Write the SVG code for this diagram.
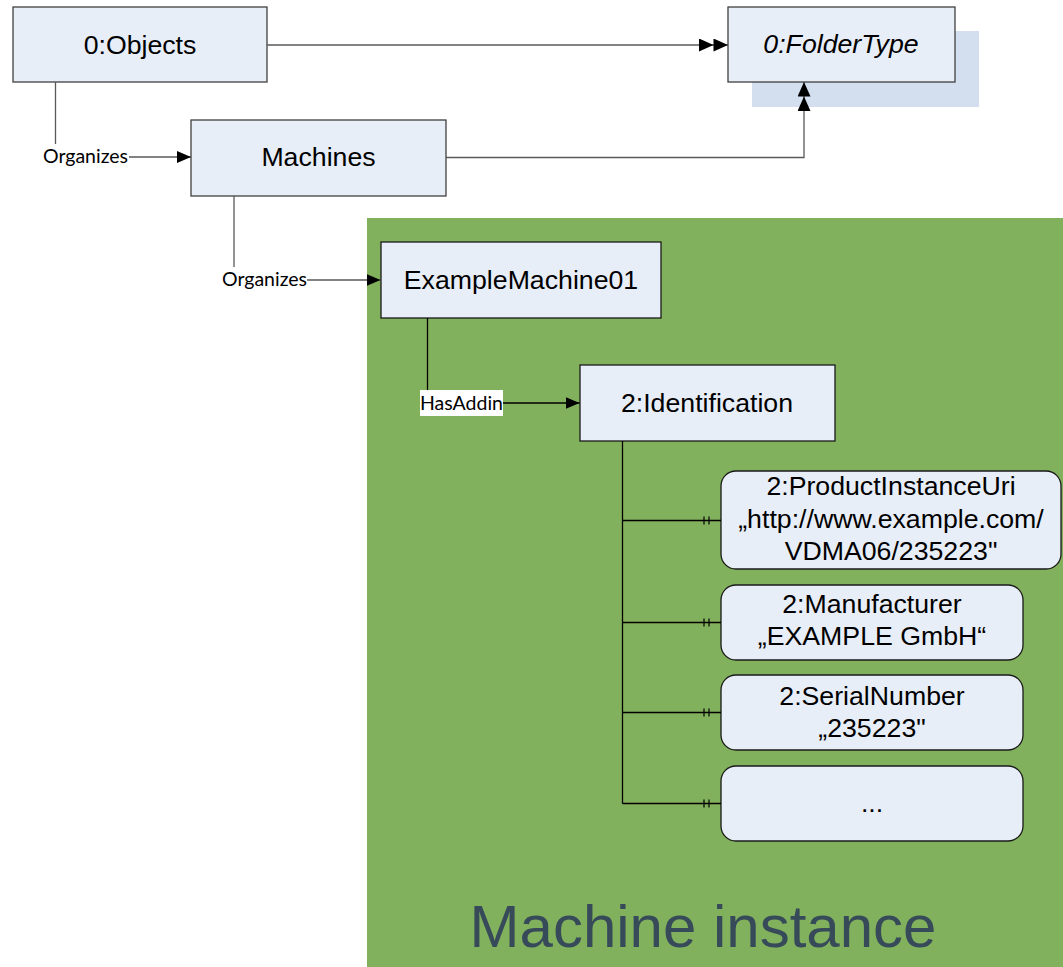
<svg xmlns="http://www.w3.org/2000/svg" width="1063" height="967" viewBox="0 0 1063 967">
  <style>
    .box { fill: #E8EEF8; stroke: #404040; stroke-width: 1.3; }
    .inner { stroke: #1a1a1a; }
    .title { font-family: "Liberation Sans", Arial, sans-serif; font-size: 26.7px; fill: #000; text-anchor: middle; }
    .lbl { font-family: Lato, "Open Sans", sans-serif; font-size: 19.5px; fill: #000; text-anchor: middle; }
    .conn { fill: none; stroke: #595959; stroke-width: 1.3; }
    .conn-in { fill: none; stroke: #000; stroke-width: 1.3; }
  </style>
  <defs>
    <marker id="arrow" viewBox="0 0 14 12" refX="14" refY="6" markerWidth="14" markerHeight="12" markerUnits="userSpaceOnUse" orient="auto">
      <path d="M0,0 L14,6 L0,12 Z" fill="#000"/>
    </marker>
    <marker id="arrow2" viewBox="0 0 29 13" refX="29" refY="6.5" markerWidth="29" markerHeight="13" markerUnits="userSpaceOnUse" orient="auto">
      <path d="M0,0 L14.5,6.5 L0,13 Z M14.5,0 L29,6.5 L14.5,13 Z" fill="#000"/>
    </marker>
    <marker id="bars" viewBox="0 0 20 10" refX="20" refY="5" markerWidth="20" markerHeight="10" markerUnits="userSpaceOnUse" orient="auto">
      <path d="M3,1 V9 M8,1 V9" stroke="#000" stroke-width="1.2" fill="none"/>
    </marker>
  </defs>

  <rect width="1063" height="967" fill="#fff"/>

  <!-- instance area -->
  <g id="machine-instance">
    <rect x="367" y="218" width="696" height="749" fill="#82B15D"/>
    <text x="703" y="947" font-family="'Liberation Sans', Arial, sans-serif" font-size="60" fill="#374A5A" text-anchor="middle">Machine instance</text>
  </g>

  <g id="objects">
    <rect class="box" x="13" y="7" width="254" height="75"/>
    <text class="title" x="140" y="53.5">0:Objects</text>
  </g>

  <g id="folder-type">
    <rect x="752" y="31" width="227" height="76" fill="#D3DEEF"/>
    <rect class="box" x="728" y="7" width="227" height="75"/>
    <text class="title" x="841" y="53" font-style="italic">0:FolderType</text>
  </g>

  <g id="machines">
    <rect class="box" x="191" y="120" width="255" height="76"/>
    <text class="title" x="318.5" y="165.5">Machines</text>
  </g>

  <g id="example-machine">
    <rect class="box inner" x="381" y="242" width="280" height="76"/>
    <text class="title" x="521" y="288.5">ExampleMachine01</text>
  </g>

  <g id="identification">
    <rect class="box inner" x="580" y="365" width="255" height="76"/>
    <text class="title" x="707" y="411.5">2:Identification</text>
  </g>

  <g id="product-instance-uri">
    <rect class="box inner" x="721" y="471" width="340" height="98" rx="15"/>
    <text class="title" x="891" y="495">2:ProductInstanceUri</text>
    <text class="title" x="891" y="527.5">„http://www.example.com/</text>
    <text class="title" x="891" y="559.5">VDMA06/235223"</text>
  </g>

  <g id="manufacturer">
    <rect class="box inner" x="721" y="585" width="302" height="75" rx="15"/>
    <text class="title" x="872" y="613">2:Manufacturer</text>
    <text class="title" x="872" y="645">„EXAMPLE GmbH“</text>
  </g>

  <g id="serial-number">
    <rect class="box inner" x="721" y="675" width="302" height="75" rx="15"/>
    <text class="title" x="872" y="705">2:SerialNumber</text>
    <text class="title" x="872" y="737">„235223"</text>
  </g>

  <g id="more">
    <rect class="box inner" x="721" y="766" width="302" height="75" rx="15"/>
    <text class="title" x="872" y="812">...</text>
  </g>

  <!-- references, drawn over the node shadows -->
  <g id="connectors">
    <path class="conn" d="M267,45 H728" marker-end="url(#arrow2)"/>
    <path class="conn" d="M446,157.5 H804 V82" marker-end="url(#arrow2)"/>
    <path class="conn" d="M55.5,82 V144"/>
    <path class="conn" d="M129,157 H191" marker-end="url(#arrow)"/>
    <text class="lbl" x="85.5" y="163">Organizes</text>
    <path class="conn" d="M234,196 V267"/>
    <path class="conn" d="M307,280 H380.5" marker-end="url(#arrow)"/>
    <text class="lbl" x="264.5" y="286">Organizes</text>
    <path class="conn-in" d="M427.5,318 V390"/>
    <path class="conn-in" d="M503,403 H579.5" marker-end="url(#arrow)"/>
    <rect x="420" y="390" width="83" height="26" fill="#fff"/>
    <text class="lbl" x="461.5" y="409.5">HasAddin</text>
    <path class="conn-in" d="M622.5,441 V803.5"/>
    <path class="conn-in" d="M622.5,520.5 H721" marker-end="url(#bars)"/>
    <path class="conn-in" d="M622.5,622.5 H721" marker-end="url(#bars)"/>
    <path class="conn-in" d="M622.5,712.5 H721" marker-end="url(#bars)"/>
    <path class="conn-in" d="M622.5,803.5 H721" marker-end="url(#bars)"/>
  </g>
</svg>
